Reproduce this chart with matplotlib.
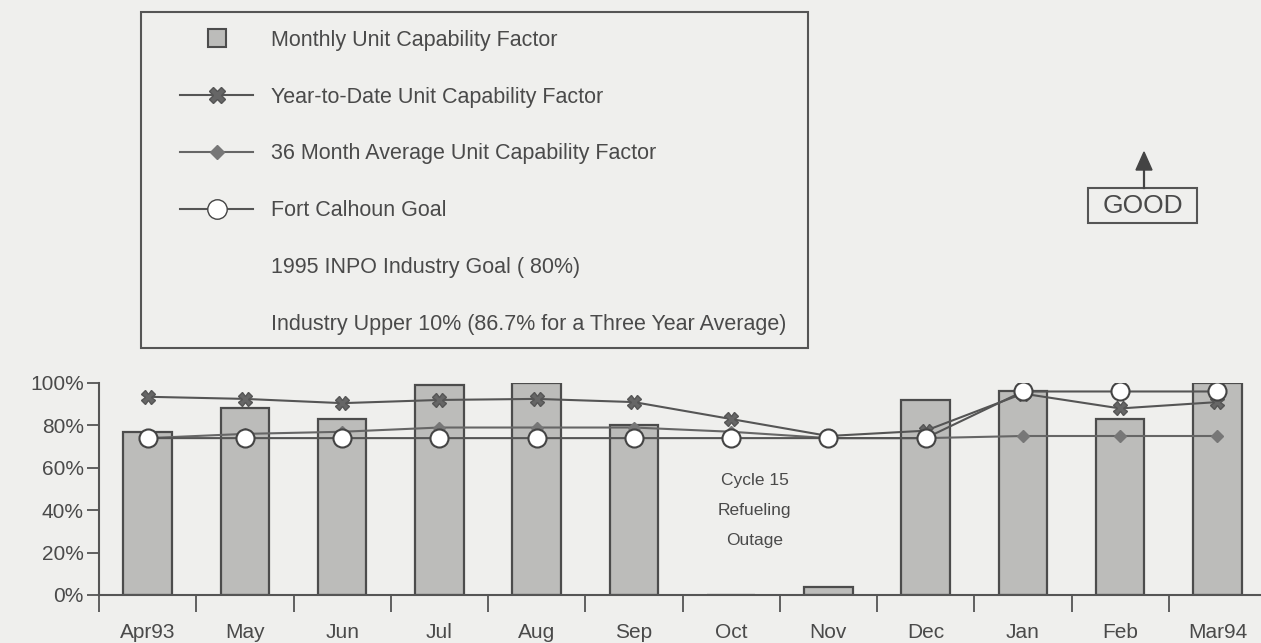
import numpy as np
from matplotlib import pyplot as plt
from matplotlib.lines import Line2D
from matplotlib.patches import Rectangle

months = ['Apr93', 'May', 'Jun', 'Jul', 'Aug', 'Sep', 'Oct', 'Nov', 'Dec', 'Jan', 'Feb', 'Mar94']
monthly_ucf = [77, 88, 83, 99, 100, 80, 0, 4, 92, 96, 83, 100]
ytd_ucf = [93.5, 92.5, 90.5, 92, 92.5, 91, 83, 75, 77.5, 95, 88, 91]
avg36_ucf = [74, 76, 77, 79, 79, 79, 77, 74, 74, 75, 75, 75]
fc_goal = [74, 74, 74, 74, 74, 74, 74, 74, 74, 96, 96, 96]

bg = '#efefed'
ink = '#4a4a4a'
W, H = 1261, 643

plt.rcParams['font.family'] = ['Liberation Sans', 'DejaVu Sans']

fig = plt.figure(figsize=(W / 100, H / 100), dpi=100, facecolor=bg)
ax = fig.add_axes([99 / W, 1 - 595 / H, 1167 / W, 212 / H], facecolor=bg)

x = np.arange(len(months))
ax.bar(x, monthly_ucf, width=0.5, color='#bcbcba', edgecolor='#4c4c4c', linewidth=1.6, zorder=2)
ax.plot(x, avg36_ucf, color='#666666', lw=1.5, marker='D', ms=6, mfc='#777777', mec='#777777', zorder=3)
ax.plot(x, ytd_ucf, color='#555555', lw=1.5, marker='X', ms=10, mfc='#666666', mec='#555555', zorder=4)
ax.plot(x, fc_goal, color='#555555', lw=1.5, marker='o', ms=13, mfc='white', mec='#444444', mew=1.5, zorder=5)

ax.text(6.24, 40, 'Cycle 15\nRefueling\nOutage', ha='center', va='center', fontsize=12.5,
        color=ink, linespacing=2.25)

ax.set_xlim(-0.5, 11.5)
ax.set_ylim(0, 100)
ax.set_yticks([0, 20, 40, 60, 80, 100])
ax.set_yticklabels(['0%', '20%', '40%', '60%', '80%', '100%'])
ax.set_xticks(x)
ax.set_xticklabels(months)
ax.set_xticks(np.arange(-0.5, 11, 1), minor=True)
ax.tick_params(axis='x', which='major', length=0, pad=20, labelsize=15, labelcolor=ink)
ax.tick_params(axis='x', which='minor', length=12, width=1.3, color='#555555', direction='out')
ax.tick_params(axis='y', length=9, width=1.3, color='#555555', labelsize=15, labelcolor=ink, pad=2)
for s in ['top', 'right']:
    ax.spines[s].set_visible(False)
for s in ['left', 'bottom']:
    ax.spines[s].set_color('#555555')
    ax.spines[s].set_linewidth(1.5)

# legend: frame drawn separately so its padding matches the original
fig.patches.append(Rectangle((141 / W, 1 - 348 / H), 667 / W, 336 / H, transform=fig.transFigure,
                             facecolor='none', edgecolor='#555555', lw=1.5))
handles = [
    Line2D([], [], color='none', marker='s', ms=13, mfc='#bcbcba', mec='#4c4c4c', mew=1.5),
    Line2D([], [], color='#555555', lw=1.5, marker='X', ms=11, mfc='#666666', mec='#555555'),
    Line2D([], [], color='#666666', lw=1.5, marker='D', ms=7, mfc='#777777', mec='#777777'),
    Line2D([], [], color='#555555', lw=1.5, marker='o', ms=14, mfc='white', mec='#444444'),
    Line2D([], [], color='none'),
    Line2D([], [], color='none'),
]
labels = [
    'Monthly Unit Capability Factor',
    'Year-to-Date Unit Capability Factor',
    '36 Month Average Unit Capability Factor',
    'Fort Calhoun Goal',
    '1995 INPO Industry Goal ( 80%)',
    'Industry Upper 10% (86.7% for a Three Year Average)',
]
fig.legend(handles, labels, loc='upper left', bbox_to_anchor=(180 / W, 1 - 30 / H),
           fontsize=15.5, labelspacing=1.66, handlelength=3.4, handletextpad=0.85,
           borderpad=0, borderaxespad=0, frameon=False, labelcolor=ink)

# GOOD marker with arrow
fig.patches.append(Rectangle((1088 / W, 1 - 223 / H), 109 / W, 35 / H, transform=fig.transFigure,
                             facecolor=bg, edgecolor='#555555', lw=1.5))
fig.text(1143 / W, 1 - 206 / H, 'GOOD', ha='center', va='center', fontsize=19, color=ink)
fig.add_artist(plt.Line2D([1144 / W, 1144 / W], [1 - 188 / H, 1 - 166 / H],
                          color='#444444', lw=1.6, transform=fig.transFigure))
fig.add_artist(plt.Polygon([[1136 / W, 1 - 170 / H], [1152 / W, 1 - 170 / H], [1144 / W, 1 - 152 / H]],
                           closed=True, color='#444444', transform=fig.transFigure))

fig.savefig('out.png', dpi=100, facecolor=bg)
